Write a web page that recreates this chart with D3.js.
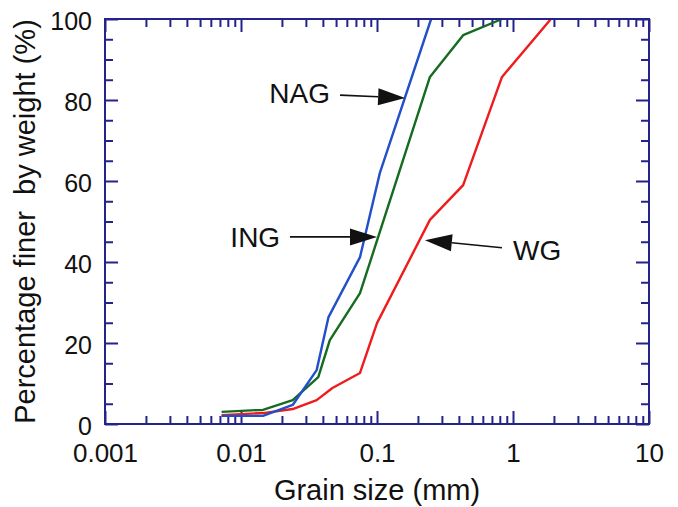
<!DOCTYPE html>
<html>
<head>
<meta charset="utf-8">
<script src="https://cdn.jsdelivr.net/npm/d3@7"></script>
<style>
  body { margin: 0; background: #fff; }
  svg { font-family: "Liberation Sans", Arial, Helvetica, sans-serif; }
</style>
</head>
<body>
<div id="chart"></div>
<script>
// grain size (mm) / percentage finer
const nagSize = [0.0072, 0.0145, 0.024, 0.036, 0.044, 0.075, 0.105, 0.25]
const nagPct  = [2, 2, 4.7, 13.3, 26.4, 41.2, 62, 100]
const ingSize = [0.0072, 0.0145, 0.024, 0.037, 0.045, 0.075, 0.245, 0.43, 0.83]
const ingPct  = [3, 3.5, 5.9, 11.6, 20.7, 32.3, 85.7, 96, 100]
const wgSize  = [0.0072, 0.0145, 0.024, 0.036, 0.047, 0.075, 0.1, 0.245, 0.43, 0.83, 1.9]
const wgPct   = [2.2, 2.7, 3.7, 5.9, 8.9, 12.6, 24.9, 50.4, 59, 85.7, 100]

const xTicks = [0.001, 0.01, 0.1, 1, 10]
const xTickLabels = ["0.001", "0.01", "0.1", "1", "10"]
const yTicks = [0, 20, 40, 60, 80, 100]

// annotation labels with arrows (data units)
const labels = ["NAG", "ING", "WG"]
const labelAt = [[0.0451, 79.3, "end"], [0.0194, 43.7, "end"], [1.0, 40.5, "start"]]
const arrowFrom = [[0.0535, 81.2], [0.0229, 46.2], [0.83, 43.5]]
const arrowTo = [[0.161, 80.5], [0.1, 46.2], [0.225, 45.4]]

const W = 678, H = 507
const MARGIN = { TOP: 19, BOTTOM: 83, LEFT: 105, RIGHT: 29 }
const navy = "#23238a"

const svg = d3.select("#chart").append("svg")
    .attr("width", W)
    .attr("height", H)

const x = d3.scaleLog()
    .domain([0.001, 10])
    .range([MARGIN.LEFT, W - MARGIN.RIGHT])
const y = d3.scaleLinear()
    .domain([0, 100])
    .range([H - MARGIN.BOTTOM, MARGIN.TOP])

const minorX = []
xTicks.slice(0, -1).forEach(d => { for (let k = 2; k <= 9; k++) minorX.push(d * k) })
const minorY = d3.range(5, 100, 5).filter(v => v % 20 !== 0)

const plotBottom = H - MARGIN.BOTTOM, plotTop = MARGIN.TOP
const plotLeft = MARGIN.LEFT, plotRight = W - MARGIN.RIGHT

function styleAxis(g, size) {
    g.select(".domain").remove()
    g.selectAll("line").attr("stroke", navy).attr("stroke-width", 2)
    g.selectAll("text").attr("fill", "#111").attr("font-size", size || 25)
}

// bottom axis with labels
svg.append("g").attr("transform", `translate(0,${plotBottom})`)
    .call(d3.axisBottom(x).tickValues(xTicks).tickSize(-13).tickPadding(20)
        .tickFormat((d, i) => xTickLabels[i]))
    .call(styleAxis, 26)
svg.append("g").attr("transform", `translate(0,${plotBottom})`)
    .call(d3.axisBottom(x).tickValues(minorX).tickSize(-8).tickFormat(""))
    .call(styleAxis)
// top mirror
svg.append("g").attr("transform", `translate(0,${plotTop})`)
    .call(d3.axisTop(x).tickValues(xTicks).tickSize(-13).tickFormat(""))
    .call(styleAxis)
svg.append("g").attr("transform", `translate(0,${plotTop})`)
    .call(d3.axisTop(x).tickValues(minorX).tickSize(-8).tickFormat(""))
    .call(styleAxis)

// left axis with labels
svg.append("g").attr("transform", `translate(${plotLeft},0)`)
    .call(d3.axisLeft(y).tickValues(yTicks).tickSize(-13).tickPadding(13))
    .call(styleAxis)
    .selectAll("text").attr("dy", "0.42em")
svg.append("g").attr("transform", `translate(${plotLeft},0)`)
    .call(d3.axisLeft(y).tickValues(minorY).tickSize(-8).tickFormat(""))
    .call(styleAxis)
// right mirror
svg.append("g").attr("transform", `translate(${plotRight},0)`)
    .call(d3.axisRight(y).tickValues(yTicks).tickSize(-13).tickFormat(""))
    .call(styleAxis)
svg.append("g").attr("transform", `translate(${plotRight},0)`)
    .call(d3.axisRight(y).tickValues(minorY).tickSize(-8).tickFormat(""))
    .call(styleAxis)

// data lines
const line = d3.line().x(d => x(d[0])).y(d => y(d[1]))
const series = [
    { size: wgSize, pct: wgPct, color: "#ee1c1c" },
    { size: ingSize, pct: ingPct, color: "#156b1f" },
    { size: nagSize, pct: nagPct, color: "#2150c8" }
]
series.forEach(s => {
    svg.append("path")
        .datum(d3.zip(s.size, s.pct))
        .attr("fill", "none")
        .attr("stroke", s.color)
        .attr("stroke-width", 2.4)
        .attr("stroke-linejoin", "round")
        .attr("d", line)
})

// frame
svg.append("rect")
    .attr("x", plotLeft).attr("y", plotTop)
    .attr("width", plotRight - plotLeft).attr("height", plotBottom - plotTop)
    .attr("fill", "none").attr("stroke", navy).attr("stroke-width", 2)

// annotations
labels.forEach((name, i) => {
    svg.append("text")
        .attr("x", x(labelAt[i][0]))
        .attr("y", y(labelAt[i][1]))
        .attr("text-anchor", labelAt[i][2])
        .attr("font-size", 28)
        .attr("fill", "#111")
        .text(name)

    const x0 = x(arrowFrom[i][0]), y0 = y(arrowFrom[i][1])
    const x1 = x(arrowTo[i][0]), y1 = y(arrowTo[i][1])
    const len = Math.hypot(x1 - x0, y1 - y0)
    const ux = (x1 - x0) / len, uy = (y1 - y0) / len
    const hl = 27, hw = 8.5
    const bx = x1 - ux * hl, by = y1 - uy * hl
    svg.append("line")
        .attr("x1", x0).attr("y1", y0).attr("x2", bx).attr("y2", by)
        .attr("stroke", "#111").attr("stroke-width", 1.6)
    svg.append("path")
        .attr("d", `M${x1},${y1}L${bx - uy * hw},${by + ux * hw}L${bx + uy * hw},${by - ux * hw}Z`)
        .attr("fill", "#111")
})

// axis titles
svg.append("text")
    .attr("x", (plotLeft + plotRight) / 2)
    .attr("y", 500)
    .attr("text-anchor", "middle")
    .attr("font-size", 29)
    .attr("fill", "#111")
    .text("Grain size (mm)")

svg.append("text")
    .attr("transform", `translate(35,${(plotTop + plotBottom) / 2}) rotate(-90)`)
    .attr("text-anchor", "middle")
    .attr("font-size", 29)
    .attr("fill", "#111")
    .attr("xml:space", "preserve")
    .style("white-space", "pre")
    .text("Percentage finer  by weight (%)")
</script>
</body>
</html>
